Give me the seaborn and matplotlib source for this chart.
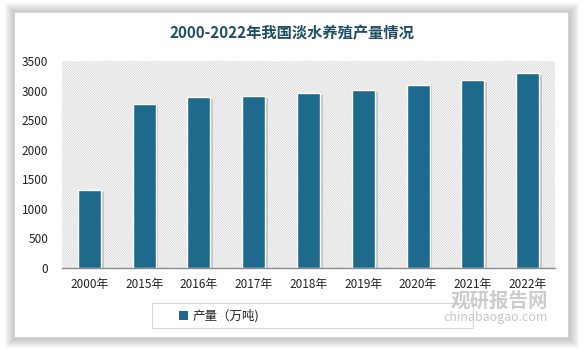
import matplotlib
matplotlib.use("Agg")
import matplotlib.pyplot as plt
import seaborn as sns
import pandas as pd
from matplotlib.patches import Rectangle, Patch

categories = ["2000年", "2015年", "2016年", "2017年", "2018年", "2019年", "2020年", "2021年", "2022年"]
values = [1315, 2780, 2890, 2905, 2960, 3014, 3089, 3183, 3295]
series_name = "产量（万吨)"
title = "2000-2022年我国淡水养殖产量情况"
yticks = [0, 500, 1000, 1500, 2000, 2500, 3000, 3500]

sns.set_theme(style="white")
plt.rcParams['font.family'] = ['Noto Sans CJK SC', 'DejaVu Sans']
plt.rcParams['hatch.linewidth'] = 0.5

W, H = 583, 349
fig = plt.figure(figsize=(W / 100, H / 100), dpi=100)
fig.patch.set_facecolor("white")

# outer panel with soft shadow
px0, py0, px1, py1 = 14, 12, 568, 337
for k in range(10, 0, -1):
    fig.patches.append(Rectangle(((px0 - k + 1) / W, 1 - (py1 + k + 1) / H),
                                 (px1 - px0 + 2 * k) / W, (py1 - py0 + 2 * k) / H,
                                 transform=fig.transFigure, facecolor="#707070",
                                 alpha=0.045, edgecolor="none", zorder=0))
fig.patches.append(Rectangle((px0 / W, 1 - py1 / H), (px1 - px0) / W, (py1 - py0) / H,
                             transform=fig.transFigure, facecolor="white", edgecolor="#d0d0d0",
                             linewidth=0.6, zorder=0.5))

ax = fig.add_axes([62 / W, 1 - 268 / H, (555 - 62) / W, (268 - 61) / H])
ax.set_zorder(3)
ax.patch.set_alpha(0)

df = pd.DataFrame({"year": categories, "value": values})
sns.barplot(data=df, x="year", y="value", color="#1E6A8D", width=0.42, ax=ax,
            edgecolor="white", linewidth=1.0, saturation=1, zorder=3)

bars = list(ax.patches)

# hatched plot background
ax.add_patch(Rectangle((0, 0), 1, 1, transform=ax.transAxes, facecolor="white",
                       edgecolor="#cfcfcf", hatch="\\" * 14, linewidth=0, zorder=0))

# bar shadows
for bar in bars:
    x, w, h = bar.get_x(), bar.get_width(), bar.get_height()
    ax.add_patch(Rectangle((x + 0.05, 0), w, h - 30, facecolor="#9a9a9a", alpha=0.45,
                           edgecolor="none", zorder=2))

ax.set_ylim(0, 3500)
ax.set_xlim(-0.5, len(categories) - 0.5)
ax.set_yticks(yticks)
ax.set_yticklabels([str(v) for v in yticks])
ax.set_xlabel("")
ax.set_ylabel("")
for s in ["top", "right", "left"]:
    ax.spines[s].set_visible(False)
ax.spines["bottom"].set_color("#8c8c8c")
ax.spines["bottom"].set_linewidth(1.0)
ax.spines["bottom"].set_zorder(4)
ax.tick_params(axis="both", length=0, labelsize=8.5, colors="#222222")
ax.tick_params(axis="y", pad=10)
ax.tick_params(axis="x", pad=7)

fig.text(0.5, 1 - 33 / H, title, ha="center", va="center", fontsize=11, fontweight="bold",
         color="#1F4E63", zorder=5)

# legend box
fig.patches.append(Rectangle((152 / W, 1 - 328 / H), (473 - 152) / W, 25 / H, transform=fig.transFigure,
                             facecolor="white", edgecolor="#d9d9d9", linewidth=0.8, zorder=2))
leg = fig.legend(handles=[Patch(facecolor="#1E6A8D", edgecolor="none", label=series_name)],
                 loc="center left", bbox_to_anchor=(168 / W, 1 - 316 / H), frameon=False,
                 fontsize=9, handlelength=0.7, handleheight=0.7, handletextpad=0.4)
leg.set_zorder(5)

# watermark
fig.text(548 / W, 1 - 301 / H, "观研报告网", ha="right", va="center", fontsize=14, fontweight="bold",
         color="#c4c4c4", alpha=0.85, zorder=6)
fig.text(548 / W, 1 - 318 / H, "chinabaogao.com", ha="right", va="center", fontsize=9,
         color="#bdbdbd", alpha=0.85, zorder=6)

fig.savefig("out.png", dpi=100)
